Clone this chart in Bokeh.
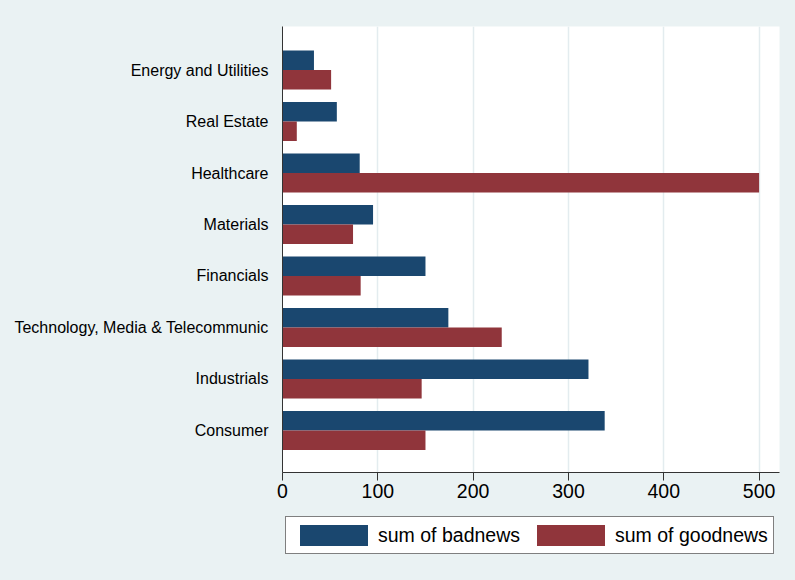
from bokeh.plotting import figure
from bokeh.layouts import column
from bokeh.models import (Range1d, FixedTicker, Legend, LegendItem, ColumnDataSource)
from bokeh.embed import file_html
from bokeh.resources import INLINE

categories = ["Energy and Utilities", "Real Estate", "Healthcare", "Materials",
              "Financials", "Technology, Media & Telecommunic", "Industrials", "Consumer"]
badnews = [33, 57, 81, 95, 150, 174, 321, 338]
goodnews = [51, 15, 500, 74, 82, 230, 146, 150]
x_ticks = [0, 100, 200, 300, 400, 500]
series_labels = ["sum of badnews", "sum of goodnews"]

BLUE = "#1A476F"
RED = "#90353B"
BG = "#EAF2F3"
FONT = "Liberation Sans"

n = len(categories)
pos = [n - 1 - i for i in range(n)]  # first category at top
src = ColumnDataSource(dict(cat=categories, pos=pos,
                            pos_bad=[v + 0.19 for v in pos],
                            pos_good=[v - 0.19 for v in pos],
                            bad=badnews, good=goodnews))

# ---------------- main chart ----------------
p = figure(width=795, height=508, x_range=Range1d(0, 521.4),
           y_range=Range1d(-0.816, n - 1 + 0.845),
           output_backend="svg", toolbar_location=None,
           min_border_left=282, min_border_right=16, min_border_top=26,
           min_border_bottom=36)

p.border_fill_color = BG
p.background_fill_color = "white"
p.outline_line_color = None

p.hbar(y="pos_bad", left=0, right="bad", height=0.379,
       source=src, fill_color=BLUE, line_color=None)
p.hbar(y="pos_good", left=0, right="good", height=0.379,
       source=src, fill_color=RED, line_color=None)

p.ygrid.grid_line_color = None
p.xgrid.ticker = FixedTicker(ticks=x_ticks)
p.xgrid.grid_line_color = "#E3ECEF"
p.xgrid.grid_line_width = 1.5

p.xaxis.ticker = FixedTicker(ticks=x_ticks)
p.xaxis.axis_line_color = "#333333"
p.xaxis.major_tick_line_color = "#333333"
p.xaxis.major_tick_out = 8
p.xaxis.major_tick_in = 0
p.xaxis.minor_tick_line_color = None
p.xaxis.major_label_text_font = FONT
p.xaxis.major_label_text_font_size = "19.5px"
p.xaxis.major_label_text_color = "black"
p.xaxis.major_label_standoff = 3

p.yaxis.ticker = FixedTicker(ticks=pos)
p.yaxis.major_label_overrides = {v: c for v, c in zip(pos, categories)}
p.yaxis.axis_line_color = "#333333"
p.yaxis.major_tick_line_color = None
p.yaxis.minor_tick_line_color = None
p.yaxis.major_label_text_font = FONT
p.yaxis.major_label_text_font_size = "16px"
p.yaxis.major_label_text_color = "black"
p.yaxis.major_label_standoff = 8

# ---------------- legend strip ----------------
lg = figure(width=795, height=72, x_range=Range1d(0, 1), y_range=Range1d(0, 1),
            output_backend="svg", toolbar_location=None,
            min_border_left=0, min_border_right=0, min_border_top=0,
            min_border_bottom=0)
lg.border_fill_color = BG
lg.background_fill_color = BG
lg.outline_line_color = None
lg.axis.visible = False
lg.grid.visible = False

# key glyphs share the chart's source but are hidden; only their legend swatches show
key_bad = lg.hbar(y="pos_bad", left=0, right="bad", height=0.379, source=src,
                  fill_color=BLUE, line_color=None, visible=False)
key_good = lg.hbar(y="pos_good", left=0, right="good", height=0.379, source=src,
                   fill_color=RED, line_color=None, visible=False)

legend = Legend(items=[LegendItem(label=series_labels[0], renderers=[key_bad]),
                       LegendItem(label=series_labels[1], renderers=[key_good])],
                orientation="horizontal", location=(3, 26))
legend.label_text_font = FONT
legend.label_text_font_size = "19.5px"
legend.label_text_color = "black"
legend.glyph_width = 85
legend.glyph_height = 26
legend.label_height = 26
legend.label_standoff = 2
legend.spacing = 8
legend.padding = 5
legend.margin = 0
legend.inactive_fill_alpha = 0
legend.border_line_color = "black"
legend.border_line_width = 1
legend.background_fill_color = "white"
legend.background_fill_alpha = 1
lg.add_layout(legend, "center")

layout = column(p, lg, spacing=0, styles={"background-color": BG})
open("out.html", "w").write(file_html(layout, INLINE))
